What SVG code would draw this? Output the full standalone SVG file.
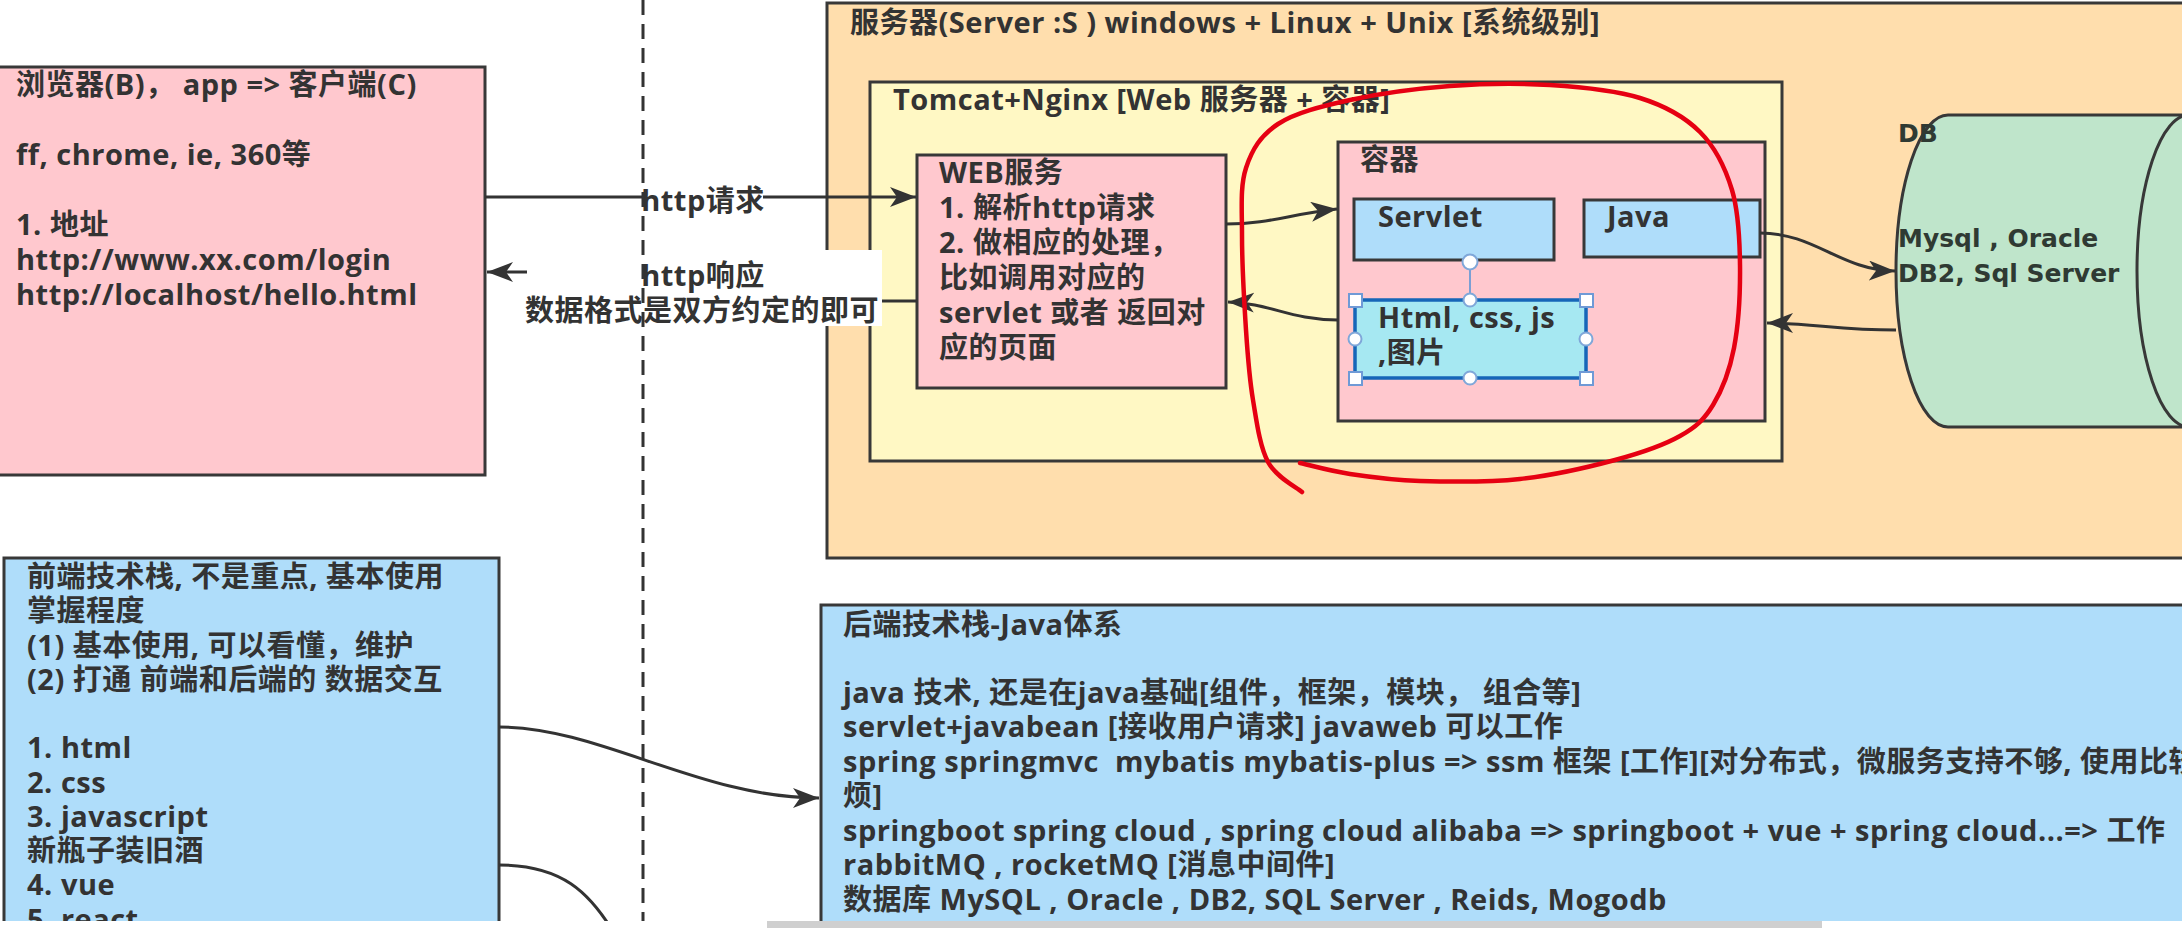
<svg xmlns="http://www.w3.org/2000/svg" width="2182" height="928" viewBox="0 0 2182 928">
<defs>
<style>
.t{font-family:"Open Sans","Noto Sans CJK SC",sans-serif;font-weight:700;font-size:29px;letter-spacing:0.5px;fill:#333;white-space:pre}
.db{font-family:"DejaVu Sans","Noto Sans CJK SC",sans-serif;font-weight:700;font-size:25px;fill:#2f3a33}
.box{stroke:#383838;stroke-width:3}
.conn{fill:none;stroke:#333;stroke-width:3}
.hc{fill:#fff;stroke:#7fa7d9;stroke-width:2}
.hs{fill:#fff;stroke:#6f9ad6;stroke-width:2}
</style>
<marker id="arr" markerUnits="userSpaceOnUse" markerWidth="28" markerHeight="22" refX="26" refY="10" orient="auto"><path d="M0,0 L26,10 L0,20 L7,10 Z" fill="#333"/></marker>
</defs>
<rect x="0" y="0" width="2182" height="928" fill="#fff"/>

<g id="server">
<rect class="box" x="827" y="3" width="1420" height="555" fill="#FFDEAD"/>
<text class="t" x="850" y="33">服务器(Server :S ) windows + Linux + Unix [系统级别]</text>
</g>
<g id="tomcat">
<rect class="box" x="870" y="82" width="912" height="379" fill="#FFF8C4"/>
<text class="t" x="893" y="110">Tomcat+Nginx [Web 服务器 + 容器]</text>
</g>
<g id="web">
<rect class="box" x="917" y="155" width="309" height="233" fill="#FFC8CE"/>
<text class="t" x="939" y="183">WEB服务</text>
<text class="t" x="939" y="218">1. 解析http请求</text>
<text class="t" x="939" y="253">2. 做相应的处理，</text>
<text class="t" x="939" y="288">比如调用对应的</text>
<text class="t" x="939" y="323">servlet 或者 返回对</text>
<text class="t" x="939" y="358">应的页面</text>
</g>
<g id="container">
<rect class="box" x="1338" y="142" width="427" height="279" fill="#FFC8CE"/>
<text class="t" x="1360" y="170">容器</text>
</g>
<g id="servlet">
<rect class="box" x="1354" y="199" width="200" height="61" fill="#AFDDFA"/>
<text class="t" x="1378" y="227">Servlet</text>
</g>
<g id="java">
<rect class="box" x="1584" y="200" width="176" height="57" fill="#AFDDFA"/>
<text class="t" x="1607" y="227">Java</text>
</g>
<g id="html">
<rect x="1355" y="300" width="231" height="78" fill="#A6E8F2" stroke="#1666b8" stroke-width="3.5"/>
<text class="t" x="1378" y="328">Html, css, js</text>
<text class="t" x="1378" y="363">,图片</text>
</g>
<g id="db">
<path class="box" d="M1948,115 L2189,115 A52,156 0 0 1 2189,427 L1948,427 A52,156 0 0 1 1948,115 Z" fill="#BFE5CB"/>
<path class="box" d="M2189,115 A52,156 0 0 0 2189,427" fill="none"/>
<text class="db" x="1898" y="142">DB</text>
<text class="db" x="1898" y="247">Mysql , Oracle</text>
<text class="db" x="1898" y="282">DB2, Sql Server</text>
</g>
<g id="browser">
<rect class="box" x="-2" y="67" width="487" height="408" fill="#FFC8CE"/>
<text class="t" x="16" y="95">浏览器(B)， app =&gt; 客户端(C)</text>
<text class="t" x="16" y="165">ff, chrome, ie, 360等</text>
<text class="t" x="16" y="235">1. 地址</text>
<text class="t" x="16" y="270">http://www.xx.com/login</text>
<text class="t" x="16" y="305">http://localhost/hello.html</text>
</g>
<g id="frontend">
<rect class="box" x="4" y="558" width="495" height="420" fill="#AFDDFA"/>
<text class="t" x="27" y="587">前端技术栈, 不是重点, 基本使用</text>
<text class="t" x="27" y="621">掌握程度</text>
<text class="t" x="27" y="656">(1) 基本使用, 可以看懂，维护</text>
<text class="t" x="27" y="690">(2) 打通 前端和后端的 数据交互</text>
<text class="t" x="27" y="758">1. html</text>
<text class="t" x="27" y="793">2. css</text>
<text class="t" x="27" y="827">3. javascript</text>
<text class="t" x="27" y="861">新瓶子装旧酒</text>
<text class="t" x="27" y="895">4. vue</text>
<text class="t" x="27" y="930">5. react</text>
</g>
<g id="backend">
<rect class="box" x="821" y="605" width="1420" height="400" fill="#AFDDFA"/>
<text class="t" x="843" y="635">后端技术栈-Java体系</text>
<text class="t" x="843" y="703">java 技术, 还是在java基础[组件，框架，模块， 组合等]</text>
<text class="t" x="843" y="737">servlet+javabean [接收用户请求] javaweb 可以工作</text>
<text class="t" x="843" y="772">spring springmvc  mybatis mybatis-plus =&gt; ssm 框架 [工作][对分布式，微服务支持不够, 使用比较麻</text>
<text class="t" x="843" y="806">烦]</text>
<text class="t" x="843" y="841">springboot spring cloud , spring cloud alibaba =&gt; springboot + vue + spring cloud...=&gt; 工作</text>
<text class="t" x="843" y="875">rabbitMQ , rocketMQ [消息中间件]</text>
<text class="t" x="843" y="910">数据库 MySQL , Oracle , DB2, SQL Server , Reids, Mogodb</text>
</g>

<g id="connectors">
<path class="conn" d="M485,197 L916,197" marker-end="url(#arr)"/>
<path class="conn" d="M917,301 L700,301 L700,272 L487,272" marker-end="url(#arr)"/>
<path class="conn" d="M1226,224 C1270,224 1290,214 1337,209" marker-end="url(#arr)"/>
<path class="conn" d="M1338,320 C1290,320 1270,303 1228,302" marker-end="url(#arr)"/>
<path class="conn" d="M1760,233 C1815,233 1840,270 1895,271" marker-end="url(#arr)"/>
<path class="conn" d="M1896,330 C1840,330 1810,323 1767,323" marker-end="url(#arr)"/>
<path class="conn" d="M499,727 C600,727 700,798 819,798" marker-end="url(#arr)"/>
<path class="conn" d="M499,865 C560,865 590,890 618,940"/>
<g id="label-req">
<rect x="643" y="182" width="120" height="32" fill="#fff"/>
<text class="t" x="703" y="211" text-anchor="middle">http请求</text>
</g>
<g id="label-resp">
<rect x="527" y="250" width="355" height="76" fill="#fff"/>
<text class="t" x="703" y="286" text-anchor="middle">http响应</text>
<text class="t" x="702" y="321" text-anchor="middle">数据格式是双方约定的即可</text>
</g>
</g>

<g id="selection">
<line x1="1470" y1="269" x2="1470" y2="294" stroke="#7b9fd4" stroke-width="2"/>
<circle class="hc" cx="1470" cy="262" r="7.5"/>
<circle class="hc" cx="1470" cy="300" r="6.5"/>
<circle class="hc" cx="1470" cy="378" r="6.5"/>
<circle class="hc" cx="1355" cy="339" r="6.5"/>
<circle class="hc" cx="1586" cy="339" r="6.5"/>
<rect class="hs" x="1349" y="294" width="13" height="13"/>
<rect class="hs" x="1580" y="294" width="13" height="13"/>
<rect class="hs" x="1349" y="372" width="13" height="13"/>
<rect class="hs" x="1580" y="372" width="13" height="13"/>
</g>

<path id="red-mark" fill="none" stroke="#E60012" stroke-width="4.5" stroke-linecap="round" stroke-linejoin="round" d="M1302,492 C1296.3,487 1276.2,477.3 1268,462 C1259.8,446.7 1256.7,422 1253,400 C1249.3,378 1247.8,357.5 1246,330 C1244.2,302.5 1242,262 1242,235 C1242,208 1240,186.5 1246,168 C1252,149.5 1260.7,135.3 1278,124 C1295.3,112.7 1321.3,106.3 1350,100 C1378.7,93.7 1416.7,88.5 1450,86 C1483.3,83.5 1518.3,83 1550,85 C1581.7,87 1615,90.2 1640,98 C1665,105.8 1684.7,116.7 1700,132 C1715.3,147.3 1725.3,167.8 1732,190 C1738.7,212.2 1739.7,238.7 1740,265 C1740.3,291.3 1738.5,324.7 1734,348 C1729.5,371.3 1722,390.3 1713,405 C1704,419.7 1696.3,426.8 1680,436 C1663.7,445.2 1641.7,452.8 1615,460 C1588.3,467.2 1552.5,475.5 1520,479 C1487.5,482.5 1448.3,481.8 1420,481 C1391.7,480.2 1370,477 1350,474 C1330,471 1308.3,464.8 1300,463"/>

<line id="divider" x1="643" y1="0" x2="643" y2="928" stroke="#333" stroke-width="3" stroke-dasharray="15 9"/>

<rect x="0" y="921" width="2182" height="7" fill="#fff"/>
<rect id="scrollbar" x="767" y="921" width="1055" height="7" fill="#cfcfcf"/>
</svg>
